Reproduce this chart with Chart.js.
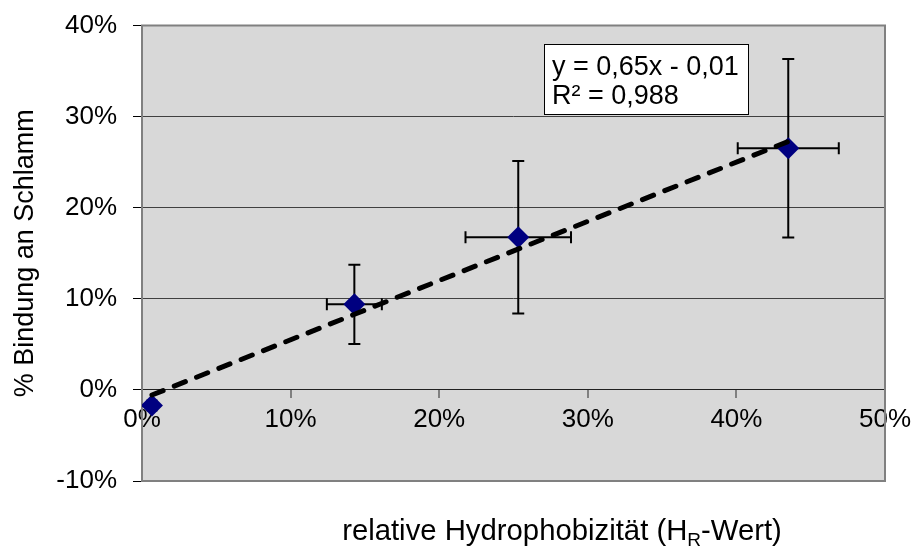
<!DOCTYPE html>
<html>
<head>
<meta charset="utf-8">
<script src="https://cdn.jsdelivr.net/npm/chart.js@4/dist/chart.umd.min.js"></script>
<style>
html,body{margin:0;padding:0;background:#fff;}
#wrap{width:914px;height:547px;}
</style>
</head>
<body>
<div id="wrap"><canvas id="c" width="914" height="547"></canvas></div>
<script>
// ---- data ----
const xValues    = [0.0067, 0.1429, 0.2532, 0.4349];
const yValues    = [-0.0170, 0.0940, 0.1676, 0.2653];
const xErr       = [0.0030, 0.0185, 0.0355, 0.0340];
const yErr       = [0.0025, 0.0435, 0.0836, 0.0980];
const trendX     = [0.0067, 0.4349];
const trendY     = [-0.0056, 0.2727];
const xTickLabels = ['0%', '10%', '20%', '30%', '40%', '50%'];
const yTickLabels = ['-10%', '0%', '10%', '20%', '30%', '40%'];
const yTitle = '% Bindung an Schlamm';
const xTitleParts = ['relative Hydrophobizität (H', 'R', '-Wert)'];
const equationLines = ['y = 0,65x - 0,01', 'R² = 0,988'];

const FONT = "'Liberation Sans', Arial, sans-serif";
Chart.defaults.font.family = FONT;

const bgPlugin = {
  id: 'bg',
  beforeDraw(chart) {
    const {ctx, chartArea: a} = chart;
    ctx.save();
    ctx.fillStyle = '#D8D8D8';
    ctx.fillRect(a.left, a.top, a.right - a.left, a.bottom - a.top);
    ctx.restore();
  }
};

const frameAndErrPlugin = {
  id: 'frameErr',
  beforeDatasetsDraw(chart) {
    const {ctx, chartArea: a, scales: {x, y}} = chart;
    ctx.save();
    ctx.strokeStyle = '#808080';
    ctx.lineWidth = 2;
    ctx.strokeRect(a.left, a.top, a.right - a.left, a.bottom - a.top);
    ctx.strokeStyle = '#000';
    ctx.lineWidth = 2;
    const cap = 6;
    for (let i = 0; i < xValues.length; i++) {
      const px = x.getPixelForValue(xValues[i]);
      const py = y.getPixelForValue(yValues[i]);
      const y1 = y.getPixelForValue(yValues[i] + yErr[i]);
      const y2 = y.getPixelForValue(yValues[i] - yErr[i]);
      const x1 = x.getPixelForValue(xValues[i] - xErr[i]);
      const x2 = x.getPixelForValue(xValues[i] + xErr[i]);
      ctx.beginPath();
      ctx.moveTo(px, y1); ctx.lineTo(px, y2);
      ctx.moveTo(px - cap, y1); ctx.lineTo(px + cap, y1);
      ctx.moveTo(px - cap, y2); ctx.lineTo(px + cap, y2);
      ctx.moveTo(x1, py); ctx.lineTo(x2, py);
      ctx.moveTo(x1, py - cap); ctx.lineTo(x1, py + cap);
      ctx.moveTo(x2, py - cap); ctx.lineTo(x2, py + cap);
      ctx.stroke();
    }
    ctx.restore();
  }
};

const textPlugin = {
  id: 'texts',
  afterDraw(chart) {
    const {ctx, chartArea: a} = chart;
    ctx.save();
    const bx = a.left + 402, by = a.top + 18.5, bw = 205, bh = 71;
    ctx.fillStyle = '#fff';
    ctx.fillRect(bx, by, bw, bh);
    ctx.strokeStyle = '#000';
    ctx.lineWidth = 1;
    ctx.strokeRect(bx + 0.5, by + 0.5, bw - 1, bh - 1);
    ctx.fillStyle = '#000';
    ctx.font = '27px ' + FONT;
    ctx.textAlign = 'left';
    ctx.textBaseline = 'alphabetic';
    ctx.fillText(equationLines[0], bx + 8, by + 31);
    ctx.fillText(equationLines[1], bx + 8, by + 60);
    const big = '29.3px ' + FONT, small = '19px ' + FONT;
    ctx.font = big; const w0 = ctx.measureText(xTitleParts[0]).width;
    const w2 = ctx.measureText(xTitleParts[2]).width;
    ctx.font = small; const w1 = ctx.measureText(xTitleParts[1]).width;
    const total = w0 + w1 + w2;
    const cx = 562, base = 540;
    let sx = cx - total / 2;
    ctx.font = big; ctx.fillText(xTitleParts[0], sx, base); sx += w0;
    ctx.font = small; ctx.fillText(xTitleParts[1], sx, base + 6); sx += w1;
    ctx.font = big; ctx.fillText(xTitleParts[2], sx, base);
    ctx.restore();
  }
};

const xMin = 0, xMax = 0.5, xStep = 0.1;
const yMin = -0.1, yMax = 0.4, yStep = 0.1;

new Chart(document.getElementById('c'), {
  type: 'scatter',
  data: {
    datasets: [
      {
        label: 'Trend',
        type: 'line',
        data: trendX.map((v, i) => ({x: v, y: trendY[i]})),
        borderColor: '#000',
        borderWidth: 5,
        borderDash: [12, 12],
        borderCapStyle: 'round',
        pointRadius: 0,
        fill: false,
        order: 0
      },
      {
        label: '% Bindung an Schlamm',
        data: xValues.map((v, i) => ({x: v, y: yValues[i]})),
        pointStyle: 'rectRot',
        pointRadius: 11,
        pointHoverRadius: 11,
        backgroundColor: '#000080',
        borderColor: '#000080',
        borderWidth: 0,
        order: 1
      }
    ]
  },
  options: {
    responsive: false,
    animation: false,
    devicePixelRatio: 1,
    layout: {padding: {top: 25.5, right: 29, bottom: 66, left: 0}},
    plugins: {legend: {display: false}, tooltip: {enabled: false}},
    scales: {
      x: {
        type: 'linear',
        position: {y: 0},
        min: xMin, max: xMax,
        ticks: {
          stepSize: xStep,
          color: '#000',
          font: {size: 26},
          padding: 6,
          maxRotation: 0,
          autoSkip: false,
          callback: v => xTickLabels[Math.round((v - xMin) / xStep)]
        },
        grid: {drawOnChartArea: false, drawTicks: true, tickLength: 8, color: '#808080', lineWidth: 2},
        border: {display: true, color: '#202020', width: 1},
        afterFit: s => { s.height = 0; s.paddingLeft = 0; s.paddingRight = 0; }
      },
      y: {
        type: 'linear',
        position: 'left',
        min: yMin, max: yMax,
        ticks: {
          stepSize: yStep,
          color: '#000',
          font: {size: 26},
          padding: 16,
          callback: v => yTickLabels[Math.round((v - yMin) / yStep)]
        },
        grid: {
          color: c => {
            const v = c.tick ? c.tick.value : 0;
            if (Math.abs(v - yMin) < 1e-6 || Math.abs(v - yMax) < 1e-6) return 'rgba(0,0,0,0)';
            if (Math.abs(v) < 1e-6) return '#202020';
            return '#404040';
          },
          tickColor: '#000',
          tickLength: 9,
          lineWidth: 1
        },
        border: {display: false},
        title: {display: true, text: yTitle, color: '#000', font: {size: 27}, padding: {top: 9, bottom: 0}},
        afterFit: s => { s.width = 142; s.paddingTop = 0; s.paddingBottom = 0; }
      }
    }
  },
  plugins: [bgPlugin, frameAndErrPlugin, textPlugin]
});
</script>
</body>
</html>
